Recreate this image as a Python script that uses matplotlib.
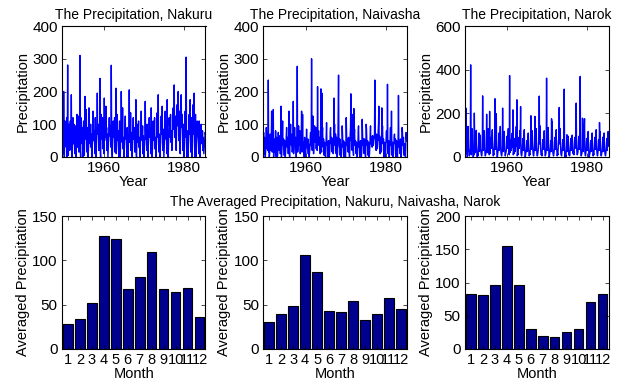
import numpy as np
import matplotlib
matplotlib.use("Agg")
import matplotlib.pyplot as plt

plt.rcParams['font.family'] = ['Liberation Sans', 'DejaVu Sans']
plt.rcParams['font.size'] = 10

# ---------------- data ----------------
start_year = 1949.4   # first monthly sample (decimal year)

nakuru_rows = [
    [45, 115, 30, 70, 10, 200, 60, 0, 35, 110, 80, 50],
    [90, 30, 120, 0, 55, 281, 40, 5, 45, 100, 60, 20],
    [70, 110, 25, 60, 190, 35, 0, 15, 50, 120, 90, 40],
    [100, 45, 80, 10, 95, 40, 0, 25, 60, 130, 70, 30],
    [60, 125, 40, 15, 85, 50, 310, 20, 0, 120, 110, 70],
    [90, 40, 60, 0, 75, 110, 30, 5, 45, 185, 80, 55],
    [70, 145, 50, 15, 90, 60, 0, 10, 40, 150, 105, 65],
    [85, 40, 100, 30, 70, 20, 0, 35, 60, 140, 90, 50],
    [60, 80, 45, 10, 120, 30, 0, 20, 55, 90, 195, 70],
    [75, 100, 50, 20, 85, 45, 240, 15, 0, 60, 130, 85],
    [55, 70, 120, 25, 60, 40, 10, 180, 50, 75, 145, 90],
    [155, 60, 90, 20, 70, 40, 0, 25, 55, 80, 120, 65],
    [70, 95, 50, 30, 280, 90, 20, 0, 40, 60, 110, 75],
    [85, 60, 120, 15, 70, 55, 210, 10, 30, 90, 130, 60],
    [50, 80, 40, 0, 65, 110, 20, 0, 45, 70, 200, 95],
    [70, 45, 150, 25, 60, 35, 0, 15, 50, 85, 125, 60],
    [55, 70, 40, 0, 90, 30, 0, 20, 65, 60, 205, 45],
    [80, 60, 135, 20, 55, 75, 10, 0, 40, 70, 120, 55],
    [60, 90, 50, 15, 80, 40, 175, 5, 0, 65, 100, 70],
    [45, 75, 110, 30, 60, 25, 0, 20, 50, 85, 140, 60],
    [70, 50, 95, 10, 65, 45, 0, 15, 40, 75, 170, 80],
    [55, 80, 40, 20, 100, 35, 0, 25, 60, 70, 120, 65],
    [60, 85, 45, 10, 150, 55, 15, 0, 35, 65, 110, 70],
    [75, 50, 120, 25, 60, 30, 0, 20, 55, 90, 135, 60],
    [65, 190, 50, 15, 70, 40, 0, 10, 45, 80, 125, 85],
    [70, 155, 45, 20, 85, 35, 0, 25, 50, 75, 140, 60],
    [55, 90, 60, 10, 175, 50, 5, 0, 40, 70, 120, 95],
    [100, 60, 130, 45, 80, 70, 20, 30, 75, 110, 150, 90],
    [85, 220, 110, 60, 125, 90, 40, 20, 80, 120, 160, 105],
    [95, 200, 120, 50, 140, 80, 30, 10, 70, 110, 190, 100],
    [90, 130, 70, 20, 100, 60, 0, 0, 40, 85, 140, 75],
    [60, 305, 50, 0, 80, 40, 0, 10, 45, 100, 130, 70],
    [80, 175, 60, 15, 120, 50, 0, 5, 55, 90, 160, 85],
    [70, 195, 45, 0, 95, 130, 20, 0, 40, 60, 110, 75],
    [65, 80, 40, 10, 110, 35, 0, 20, 50, 75, 100, 60],
    [75, 40, 80, 20, 60, 30, 10, 25, 45, 60, 75, 70],
]

naivasha_rows = [
    [40, 75, 20, 10, 60, 30, 0, 15, 35, 90, 55, 25],
    [30, 60, 20, 235, 15, 45, 0, 10, 40, 70, 50, 20],
    [50, 140, 30, 15, 60, 25, 145, 0, 20, 55, 40, 15],
    [25, 80, 10, 0, 60, 20, 0, 5, 30, 75, 50, 20],
    [45, 30, 65, 10, 20, 155, 0, 0, 25, 60, 110, 40],
    [35, 55, 25, 5, 50, 30, 0, 15, 40, 70, 90, 45],
    [30, 60, 45, 10, 55, 140, 20, 0, 35, 80, 100, 40],
    [50, 35, 70, 15, 45, 30, 170, 10, 25, 60, 90, 55],
    [40, 60, 30, 0, 50, 25, 277, 15, 20, 75, 95, 45],
    [35, 50, 80, 10, 40, 30, 60, 140, 15, 55, 130, 50],
    [30, 45, 20, 0, 60, 35, 5, 0, 25, 50, 85, 40],
    [45, 25, 55, 10, 40, 20, 0, 15, 30, 60, 75, 35],
    [50, 300, 60, 20, 85, 125, 40, 10, 30, 70, 95, 60],
    [45, 70, 90, 25, 60, 40, 20, 215, 35, 55, 80, 50],
    [40, 60, 35, 10, 55, 208, 30, 15, 195, 70, 90, 45],
    [30, 55, 20, 5, 45, 35, 10, 0, 25, 60, 105, 40],
    [35, 45, 25, 0, 50, 20, 0, 10, 30, 75, 90, 45],
    [40, 60, 30, 15, 55, 30, 10, 20, 180, 65, 100, 50],
    [35, 70, 45, 10, 60, 25, 0, 15, 40, 135, 250, 60],
    [45, 30, 55, 5, 40, 20, 0, 10, 35, 95, 70, 40],
    [30, 50, 20, 0, 45, 25, 5, 0, 30, 120, 80, 35],
    [40, 55, 30, 15, 60, 35, 10, 0, 25, 70, 90, 193],
    [50, 65, 40, 20, 130, 30, 15, 5, 148, 60, 85, 45],
    [35, 50, 25, 10, 45, 30, 0, 10, 30, 75, 95, 40],
    [30, 45, 20, 0, 50, 25, 0, 5, 25, 115, 80, 35],
    [40, 55, 30, 10, 55, 35, 10, 0, 30, 100, 85, 45],
    [35, 50, 25, 5, 45, 30, 0, 10, 35, 70, 95, 40],
    [55, 60, 45, 30, 65, 50, 35, 40, 55, 65, 70, 235],
    [60, 55, 45, 20, 70, 50, 25, 30, 45, 80, 100, 155],
    [50, 65, 40, 10, 60, 45, 15, 20, 150, 70, 95, 55],
    [40, 55, 30, 0, 45, 30, 5, 0, 25, 60, 80, 50],
    [45, 222, 35, 10, 50, 30, 0, 5, 30, 65, 90, 40],
    [35, 140, 30, 5, 45, 25, 0, 10, 35, 60, 70, 45],
    [40, 55, 25, 0, 50, 30, 5, 0, 30, 60, 188, 50],
    [30, 45, 20, 10, 55, 25, 0, 15, 40, 90, 75, 35],
    [45, 60, 30, 5, 40, 25, 10, 0, 35, 75, 55, 50],
]

narok_rows = [
    [40, 10, 55, 224, 20, 90, 35, 0, 60, 140, 80, 30],
    [20, 5, 15, 30, 40, 422, 60, 10, 45, 130, 110, 50],
    [15, 0, 20, 10, 201, 85, 40, 20, 50, 95, 122, 40],
    [10, 0, 15, 5, 30, 60, 110, 25, 45, 80, 100, 35],
    [20, 10, 5, 15, 40, 280, 70, 30, 55, 90, 120, 45],
    [15, 5, 10, 20, 35, 196, 55, 20, 60, 85, 130, 40],
    [25, 10, 209, 15, 30, 70, 90, 40, 65, 100, 125, 50],
    [20, 5, 15, 10, 45, 80, 267, 35, 50, 90, 198, 45],
    [15, 0, 10, 25, 40, 75, 110, 30, 60, 85, 140, 55],
    [20, 10, 5, 15, 35, 224, 65, 25, 55, 80, 117, 40],
    [25, 5, 15, 20, 30, 70, 95, 40, 60, 90, 130, 50],
    [15, 10, 373, 20, 40, 80, 60, 30, 50, 95, 110, 45],
    [216, 10, 20, 15, 35, 85, 70, 25, 55, 100, 140, 50],
    [262, 5, 15, 10, 30, 75, 90, 40, 60, 120, 100, 231],
    [20, 10, 5, 15, 40, 70, 85, 30, 50, 90, 125, 45],
    [15, 0, 10, 20, 35, 60, 75, 25, 45, 80, 110, 40],
    [20, 5, 15, 10, 30, 65, 189, 35, 55, 85, 120, 50],
    [25, 10, 5, 15, 40, 75, 186, 30, 50, 90, 130, 45],
    [15, 5, 10, 20, 35, 70, 95, 279, 60, 143, 115, 40],
    [20, 10, 15, 5, 30, 65, 80, 35, 50, 90, 120, 45],
    [25, 5, 10, 15, 40, 361, 85, 30, 55, 95, 135, 50],
    [15, 0, 10, 20, 35, 60, 75, 25, 175, 85, 163, 40],
    [20, 10, 5, 15, 30, 70, 90, 35, 50, 80, 125, 45],
    [25, 5, 15, 10, 40, 75, 85, 227, 60, 95, 130, 50],
    [15, 10, 5, 20, 35, 65, 80, 30, 55, 90, 311, 45],
    [0, 5, 10, 0, 30, 60, 102, 25, 45, 80, 95, 40],
    [10, 20, 5, 15, 40, 70, 85, 30, 55, 90, 100, 50],
    [20, 15, 25, 10, 35, 75, 90, 40, 60, 95, 247, 55],
    [25, 10, 15, 20, 40, 80, 95, 35, 65, 100, 369, 60],
    [15, 5, 10, 15, 30, 178, 80, 25, 50, 90, 120, 175],
    [20, 10, 5, 20, 35, 70, 85, 30, 55, 85, 117, 45],
    [15, 0, 10, 15, 30, 65, 75, 25, 50, 80, 110, 40],
    [20, 5, 15, 10, 40, 70, 90, 35, 55, 95, 125, 50],
    [25, 10, 5, 15, 35, 75, 80, 30, 158, 90, 115, 45],
    [15, 5, 10, 20, 30, 60, 91, 25, 50, 85, 110, 40],
    [20, 10, 5, 15, 40, 70, 85, 30, 55, 90, 117, 50],
]

months = list(range(1, 13))
month_labels = [str(m) for m in months]
avg_nakuru = [28, 34, 52, 127, 124, 68, 81, 109, 68, 64, 69, 36]
avg_naivasha = [31, 39, 49, 106, 87, 43, 42, 54, 33, 39, 57, 45]
avg_narok = [82, 81, 96, 155, 96, 30, 19, 18, 25, 30, 71, 83]

stations = ["Nakuru", "Naivasha", "Narok"]
series_rows = [nakuru_rows, naivasha_rows, narok_rows]
averages = [avg_nakuru, avg_naivasha, avg_narok]
top_ylims = [(0, 400), (0, 400), (0, 600)]
top_yticks = [[0, 100, 200, 300, 400], [0, 100, 200, 300, 400], [0, 200, 400, 600]]
bot_ylims = [(0, 150), (0, 150), (0, 200)]
bot_yticks = [[0, 50, 100, 150], [0, 50, 100, 150], [0, 50, 100, 150, 200]]
year_ticks = [1960, 1980]

# ---------------- figure ----------------
W, H = 632, 385
fig = plt.figure(figsize=(W / 100, H / 100), dpi=100)

lefts = [62, 263.3, 465]
aw = 143.5


def style(ax, xlabelsize=11):
    ax.tick_params(direction='in', top=True, right=True, length=3, width=0.5,
                   labelsize=11, pad=3, colors='black')
    ax.tick_params(axis='x', labelsize=xlabelsize)
    for s in ax.spines.values():
        s.set_linewidth(0.8)
        s.set_color('black')


for i in range(3):
    # top: time series
    ax = fig.add_axes([lefts[i] / W, 1 - 157 / H, aw / W, 131 / H])
    vals = np.array(series_rows[i], dtype=float).ravel()
    t = start_year + np.arange(vals.size) / 12.0
    ax.plot(t, vals, color='#0000ff', lw=1.0)
    ax.set_xlim(t[0], t[-1])
    ax.set_ylim(*top_ylims[i])
    ax.set_yticks(top_yticks[i])
    ax.set_xticks(year_ticks)
    ax.set_title(f"The Precipitation, {stations[i]}", fontsize=10, pad=5)
    ax.set_xlabel("Year", fontsize=10.5, labelpad=0)
    ax.set_ylabel("Precipitation", fontsize=10.5, labelpad=2)
    style(ax)

    # bottom: monthly averages
    bx = fig.add_axes([lefts[i] / W, 1 - 349 / H, aw / W, 133 / H])
    bx.bar(months, averages[i], width=0.8, color='#00008f', edgecolor='black', linewidth=0.8)
    bx.set_xlim(0.5, 12.5)
    bx.set_ylim(*bot_ylims[i])
    bx.set_yticks(bot_yticks[i])
    bx.set_xticks(months)
    bx.set_xticklabels(month_labels)
    bx.set_xlabel("Month", fontsize=10.5, labelpad=0)
    bx.set_ylabel("Averaged Precipitation", fontsize=10.5, labelpad=2)
    if i == 1:
        bx.set_title("The Averaged Precipitation, Nakuru, Naivasha, Narok", fontsize=10, pad=7)
    style(bx, xlabelsize=10.5)

fig.savefig("out.png", dpi=100)
